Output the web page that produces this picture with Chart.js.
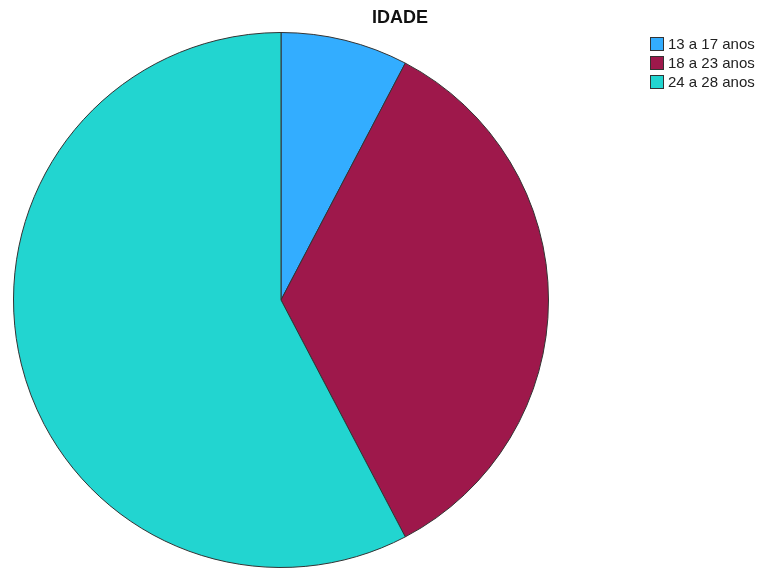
<!DOCTYPE html>
<html>
<head>
<meta charset="utf-8">
<script src="https://cdn.jsdelivr.net/npm/chart.js@4"></script>
<style>
  html, body { margin: 0; padding: 0; background: #fff; }
  #wrap { position: relative; width: 759px; height: 569px; }
</style>
</head>
<body>
<div id="wrap"><canvas id="idade" width="759" height="569"></canvas></div>
<script>
const titulo = 'IDADE';
const faixas = ['13 a 17 anos', '18 a 23 anos', '24 a 28 anos'];
const quantidades = [2, 9, 15];
const cores = ['#33adff', '#9e184b', '#22d5d0'];

// titulo e legenda desenhados a mao, no lugar do original
const legendaLateral = {
  id: 'legendaLateral',
  afterDraw(chart) {
    const ctx = chart.ctx;
    ctx.save();
    ctx.fillStyle = '#111';
    ctx.font = 'bold 18px "Liberation Sans", Arial, sans-serif';
    ctx.textAlign = 'center';
    ctx.textBaseline = 'middle';
    ctx.fillText(titulo, 400, 18);

    ctx.font = '15px "Liberation Sans", Arial, sans-serif';
    ctx.textAlign = 'left';
    faixas.forEach((f, i) => {
      const y = 37 + i * 19;
      ctx.fillStyle = cores[i];
      ctx.fillRect(650, y, 14, 14);
      ctx.strokeStyle = '#333';
      ctx.lineWidth = 1;
      ctx.strokeRect(650.5, y + 0.5, 13, 13);
      ctx.fillStyle = '#222';
      ctx.fillText(f, 668, y + 7.5);
    });
    ctx.restore();
  }
};

const idade = document.getElementById('idade');
new Chart(idade, {
  type: 'pie',
  data: {
    labels: faixas,
    datasets: [{
      data: quantidades,
      backgroundColor: cores,
      borderColor: '#333',
      borderWidth: 1
    }]
  },
  options: {
    responsive: false,
    animation: false,
    events: [],
    layout: {
      padding: { left: 13, top: 32, right: 210, bottom: 1 }
    },
    plugins: {
      legend: { display: false },
      title: { display: false },
      tooltip: { enabled: false }
    }
  },
  plugins: [legendaLateral]
});
</script>
</body>
</html>
